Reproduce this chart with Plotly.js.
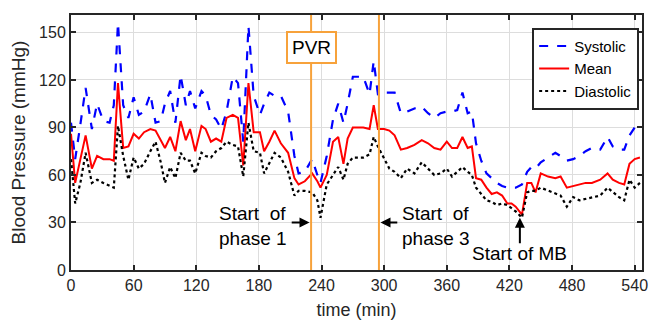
<!DOCTYPE html>
<html>
<head>
<meta charset="utf-8">
<script src="https://cdn.plot.ly/plotly-3.0.1.min.js"></script>
<style>html,body{margin:0;padding:0;background:#fff;}#chart{width:649px;height:323px;}</style>
</head>
<body>
<div id="chart"></div>
<script>
const timeMin = [0,4,9,14,20,25,31,37,41,45,50,55,60,65,70,76,81,86,90,95,100,105,110,114,119,125,129,134,139,144,149,155,160,165,170,175,181,185,190,195,201,208,214,218,224,231,236,239,245,251,256,261,265,270,280,286,290,294,300,305,310,316,322,329,336,342,348,354,360,365,370,375,380,384,388,393,398,403,408,413,418,422,426,432,437,441,445,450,457,464,469,475,481,487,493,499,507,514,519,525,530,535,540,545];
const systolic = [93,70,92,115,89,105,94,93,104,156,104,96,109,98,100,111,93,94,105,113,93,123,104,113,102,113,110,98,95,89,100,122,118,81,154,110,98,105,112,110,110,100,72,61,62,70,60,55,72,95,105,93,105,122,122,111,132,111,112,112,112,99,100,102,103,99,96,99,100,100,101,112,99,100,80,69,61,58,55,53,52,52,52,54,62,65,64,68,71,74,72,69,70,72,75,77,76,84,78,76,76,85,90,93];
const mean = [86,55,70,85,64,72,70,70,69,118,77,78,86,83,87,89,88,82,77,84,75,94,82,89,75,91,89,81,83,81,96,98,96,66,118,87,87,75,81,88,80,74,58,54,56,61,56,52,60,81,84,67,83,90,90,89,104,89,89,88,85,76,77,79,82,80,77,76,81,77,77,84,77,78,58,57,52,48,49,47,42,42,40,35,55,55,49,61,59,58,59,52,53,54,55,55,57,61,57,55,54,67,70,71];
const diastolic = [70,42,55,74,55,57,55,53,52,91,72,57,71,64,67,75,81,68,55,65,58,74,69,69,61,74,72,71,75,77,81,79,78,59,93,75,74,61,68,74,71,62,47,50,50,49,44,33,54,60,65,57,67,71,71,73,84,78,70,64,62,58,64,61,68,64,60,61,64,59,62,65,62,60,52,48,44,43,41,42,41,39,37,33,49,50,50,52,50,48,47,40,46,44,45,46,47,52,49,46,44,57,52,55];
const seriesNames = ["Systolic","Mean","Diastolic"];
const xTicks = [0,60,120,180,240,300,360,420,480,540];
const yTicks = [0,30,60,90,120,150];
const pvrTime = 230, phase3Time = 295, mbTime = 430;

const FONT = "Liberation Sans, Arial, sans-serif";
const ORANGE = "#F7A23B";

const traces = [
  {x: timeMin, y: systolic, name: seriesNames[0], mode: "lines", line: {color: "#0000FF", width: 2.2, dash: "dash"}},
  {x: timeMin, y: mean, name: seriesNames[1], mode: "lines", line: {color: "#FF0000", width: 2}},
  {x: timeMin, y: diastolic, name: seriesNames[2], mode: "lines", line: {color: "#000000", width: 2.2, dash: "dot"}}
];

const layout = {
  width: 649, height: 323,
  margin: {l: 71, r: 7, t: 15, b: 53},
  paper_bgcolor: "#fff", plot_bgcolor: "#fff",
  font: {family: FONT, size: 16, color: "#262626"},
  showlegend: true,
  legend: {x: 0.995, y: 0.95, xanchor: "right", yanchor: "top", bgcolor: "#fff", bordercolor: "#262626", borderwidth: 2,
           font: {family: FONT, size: 15, color: "#000"}, tracegroupgap: 0, itemwidth: 30},
  xaxis: {range: [0, 547], tickvals: xTicks, ticks: "inside", ticklen: 5, tickwidth: 2, tickcolor: "#262626",
          showline: true, linecolor: "#262626", linewidth: 2, mirror: "ticks", automargin: false,
          showgrid: true, gridcolor: "#DDDDDD", gridwidth: 1, zeroline: false,
          title: {text: "time (min)", font: {family: FONT, size: 18, color: "#262626"}, standoff: 10},
          tickfont: {family: FONT, size: 16, color: "#262626"}},
  yaxis: {range: [0, 161], tickvals: yTicks, ticks: "inside", ticklen: 5, tickwidth: 2, tickcolor: "#262626",
          showline: true, linecolor: "#262626", linewidth: 2, mirror: "ticks", automargin: false,
          showgrid: true, gridcolor: "#DDDDDD", gridwidth: 1, zeroline: false,
          title: {text: "Blood Pressure (mmHg)", font: {family: FONT, size: 19, color: "#262626"}, standoff: 8},
          tickfont: {family: FONT, size: 16, color: "#262626"}},
  shapes: [
    {type: "line", xref: "x", yref: "paper", x0: pvrTime, x1: pvrTime, y0: 0, y1: 1, line: {color: ORANGE, width: 2}},
    {type: "line", xref: "x", yref: "paper", x0: phase3Time, x1: phase3Time, y0: 0, y1: 1, line: {color: ORANGE, width: 2}}
  ],
  annotations: [
    {x: pvrTime, y: 140.5, xref: "x", yref: "y", text: "PVR", showarrow: false, font: {family: FONT, size: 19, color: "#000"},
     bgcolor: "#fff", bordercolor: ORANGE, borderwidth: 2, borderpad: 4},
    {x: 174, y: 27.5, xref: "x", yref: "y", text: "Start&nbsp; of<br>phase 1", showarrow: false, align: "left",
     font: {family: FONT, size: 19, color: "#000"}},
    {x: 228.5, y: 30, ax: 210, ay: 30, xref: "x", yref: "y", axref: "x", ayref: "y", text: "", showarrow: true,
     arrowhead: 2, arrowsize: 1, arrowwidth: 2, arrowcolor: "#000"},
    {x: 350, y: 27.5, xref: "x", yref: "y", text: "Start&nbsp; of<br>phase 3", showarrow: false, align: "left",
     font: {family: FONT, size: 19, color: "#000"}},
    {x: 296.5, y: 30, ax: 314, ay: 30, xref: "x", yref: "y", axref: "x", ayref: "y", text: "", showarrow: true,
     arrowhead: 2, arrowsize: 1, arrowwidth: 2, arrowcolor: "#000"},
    {x: 430, y: 10.5, xref: "x", yref: "y", text: "Start of MB", showarrow: false,
     font: {family: FONT, size: 19, color: "#000"}},
    {x: mbTime, y: 33, ax: mbTime, ay: 16, xref: "x", yref: "y", axref: "x", ayref: "y", text: "", showarrow: true,
     arrowhead: 2, arrowsize: 1, arrowwidth: 2, arrowcolor: "#000"}
  ]
};

Plotly.newPlot("chart", traces, layout, {displayModeBar: false, staticPlot: true});
</script>
</body>
</html>
